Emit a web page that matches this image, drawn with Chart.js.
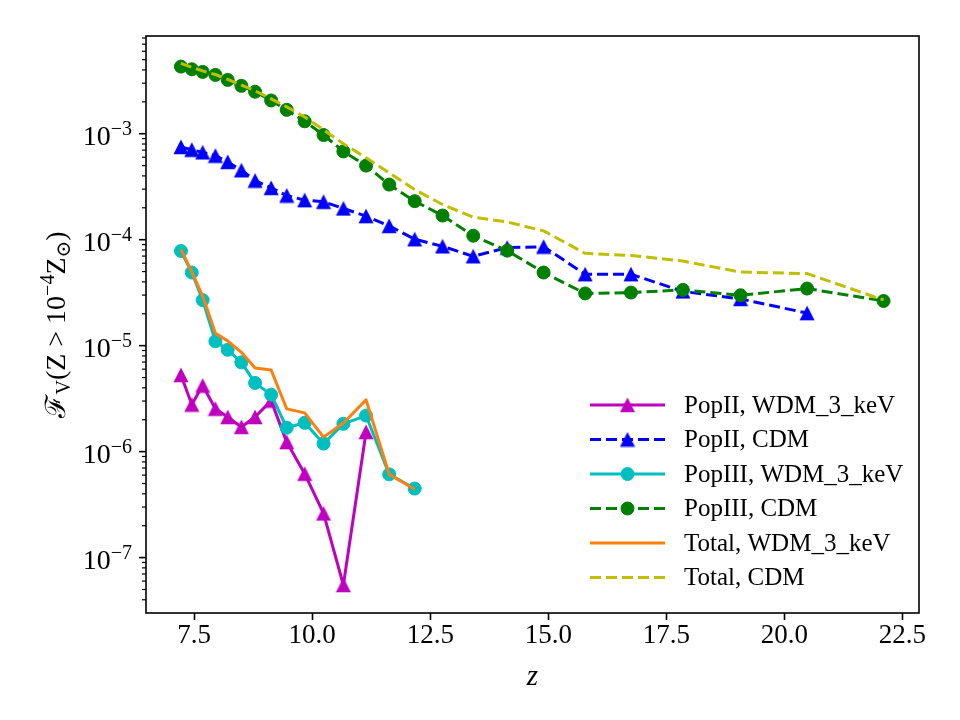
<!DOCTYPE html>
<html>
<head>
<meta charset="utf-8">
<script src="https://cdn.jsdelivr.net/npm/chart.js@4/dist/chart.umd.min.js"></script>
<style>
  html, body { margin: 0; padding: 0; background: #fff; }
  #wrap { width: 960px; height: 720px; }
</style>
</head>
<body>
<div id="wrap"><canvas id="chart" width="960" height="720"></canvas></div>
<script>
// redshift snapshots shared by every series
var redshift = [7.22, 7.45, 7.68, 7.95, 8.21, 8.50, 8.79, 9.13, 9.46, 9.84, 10.24, 10.66, 11.14,
                11.63, 12.17, 12.76, 13.41, 14.13, 14.90, 15.78, 16.75, 17.85, 19.07, 20.48, 22.10];

var popII_wdm  = [5.28e-6, 2.78e-6, 4.20e-6, 2.54e-6, 2.12e-6, 1.71e-6, 2.12e-6, 3.03e-6, 1.23e-6,
                  6.19e-7, 2.61e-7, 5.51e-8, 1.53e-6];
var popII_cdm  = [7.50e-4, 7.06e-4, 6.67e-4, 6.21e-4, 5.42e-4, 4.52e-4, 3.61e-4, 3.08e-4, 2.61e-4,
                  2.36e-4, 2.28e-4, 1.97e-4, 1.67e-4, 1.35e-4, 1.01e-4, 8.65e-5, 6.97e-5, 8.41e-5,
                  8.59e-5, 4.72e-5, 4.72e-5, 3.25e-5, 2.76e-5, 2.03e-5];
var popIII_wdm = [7.82e-5, 4.90e-5, 2.69e-5, 1.10e-5, 9.14e-6, 6.96e-6, 4.45e-6, 3.45e-6, 1.68e-6,
                  1.87e-6, 1.19e-6, 1.83e-6, 2.19e-6, 6.10e-7, 4.48e-7];
var popIII_cdm = [4.30e-3, 4.06e-3, 3.83e-3, 3.59e-3, 3.22e-3, 2.83e-3, 2.49e-3, 2.06e-3, 1.68e-3,
                  1.31e-3, 9.72e-4, 6.81e-4, 5.00e-4, 3.31e-4, 2.31e-4, 1.69e-4, 1.09e-4, 7.88e-5,
                  4.90e-5, 3.11e-5, 3.17e-5, 3.36e-5, 2.99e-5, 3.46e-5, 2.64e-5];
var total_wdm  = [8.11e-5, 4.96e-5, 2.94e-5, 1.31e-5, 1.11e-5, 8.65e-6, 6.15e-6, 5.89e-6, 2.53e-6,
                  2.32e-6, 1.37e-6, 1.86e-6, 3.08e-6, 6.11e-7, 4.41e-7];
var total_cdm  = [4.61e-3, 4.23e-3, 3.92e-3, 3.62e-3, 3.26e-3, 2.88e-3, 2.54e-3, 2.13e-3, 1.79e-3,
                  1.44e-3, 1.09e-3, 8.05e-4, 5.94e-4, 4.27e-4, 2.97e-4, 2.15e-4, 1.63e-4, 1.47e-4,
                  1.21e-4, 7.43e-5, 7.11e-5, 6.29e-5, 4.95e-5, 4.79e-5, 2.70e-5];

var labels = ['PopII, WDM_3_keV', 'PopII, CDM', 'PopIII, WDM_3_keV', 'PopIII, CDM',
              'Total, WDM_3_keV', 'Total, CDM'];
var x_ticks = [7.5, 10.0, 12.5, 15.0, 17.5, 20.0, 22.5];
var y_decades = [-7, -6, -5, -4, -3];

var SERIF = '"Liberation Serif", "DejaVu Serif", serif';

function pts(ys) {
  return ys.map(function(v, i) { return {x: redshift[i], y: v}; });
}

// matplotlib style '^' marker
function triangle(color) {
  var c = document.createElement('canvas');
  c.width = 16; c.height = 16;
  var g = c.getContext('2d');
  g.fillStyle = color;
  g.beginPath();
  g.moveTo(8, 0.5); g.lineTo(15.5, 15.2); g.lineTo(0.5, 15.2);
  g.closePath(); g.fill();
  return c;
}

var DASH = [11, 5];

function series(label, ys, color, dashed, marker, order) {
  var d = {
    label: label, data: pts(ys), borderColor: color, backgroundColor: color,
    borderWidth: 3, borderDash: dashed ? DASH : [], borderJoinStyle: 'round',
    pointBorderColor: color, pointBackgroundColor: color, pointBorderWidth: 1,
    order: order, tension: 0
  };
  if (marker === 'tri') { d.pointStyle = triangle(color); d.pointRadius = 7; }
  else if (marker === 'circ') { d.pointStyle = 'circle'; d.pointRadius = 6.5; }
  else { d.pointRadius = 0; }
  return d;
}

var datasets = [
  series(labels[0], popII_wdm,  '#bf00bf', false, 'tri', 6),
  series(labels[1], popII_cdm,  '#0000ff', true,  'tri', 5),
  series(labels[2], popIII_wdm, '#00bfbf', false, 'circ', 4),
  series(labels[3], popIII_cdm, '#008000', true,  'circ', 3),
  series(labels[4], total_wdm,  '#ff7f0e', false, null, 2),
  series(labels[5], total_cdm,  '#bfbf00', true,  null, 1)
];

var decor = {
  id: 'decor',
  afterDraw: function(chart) {
    var ctx = chart.ctx, a = chart.chartArea;
    var xs = chart.scales.x, ys = chart.scales.y;
    ctx.save();
    // frame
    ctx.strokeStyle = '#000'; ctx.lineWidth = 1.6; ctx.setLineDash([]);
    ctx.strokeRect(a.left, a.top, a.right - a.left, a.bottom - a.top);
    // x ticks
    x_ticks.forEach(function(v) {
      var p = Math.round(xs.getPixelForValue(v)) + 0.5;
      ctx.beginPath(); ctx.moveTo(p, a.bottom); ctx.lineTo(p, a.bottom + 7); ctx.stroke();
    });
    // y ticks
    ys.ticks.forEach(function(t) {
      var p = ys.getPixelForValue(t.value);
      if (p < a.top - 0.5 || p > a.bottom + 0.5) return;
      var major = t.major;
      ctx.lineWidth = major ? 1.6 : 1.2;
      ctx.beginPath(); ctx.moveTo(a.left, p); ctx.lineTo(a.left - (major ? 7 : 4), p); ctx.stroke();
    });
    // y tick labels 10^e
    ctx.fillStyle = '#000';
    ctx.textBaseline = 'alphabetic';
    y_decades.forEach(function(e) {
      var p = ys.getPixelForValue(Math.pow(10, e));
      var sup = '\u2212' + Math.abs(e);
      ctx.font = '20px ' + SERIF;
      var w2 = ctx.measureText(sup).width;
      ctx.font = '28px ' + SERIF;
      var w1 = ctx.measureText('10').width;
      var right = a.left - 14;
      ctx.textAlign = 'left';
      ctx.fillText('10', right - w2 - w1, p + 11);
      ctx.font = '20px ' + SERIF;
      ctx.fillText(sup, right - w2, p + 1);
    });
    // y axis title
    ctx.save();
    ctx.translate(56, (a.top + a.bottom) / 2);
    ctx.rotate(-Math.PI / 2);
    var big = '28px ' + SERIF, small = '20px ' + SERIF;
    var parts = [
      {t: '\u2131', f: big, dy: 0},
      {t: 'V', f: small, dy: 5},
      {t: '(Z > 10', f: big, dy: 0},
      {t: '\u22124', f: small, dy: -11},
      {t: 'Z', f: big, dy: 0},
      {t: '\u2299', f: small, dy: 5},
      {t: ')', f: big, dy: 0}
    ];
    var total = 0;
    parts.forEach(function(q) { ctx.font = q.f; q.w = ctx.measureText(q.t).width; total += q.w; });
    var cx = -total / 2;
    ctx.textAlign = 'left';
    parts.forEach(function(q) {
      ctx.font = q.f;
      ctx.fillText(q.t, cx, 9 + q.dy);
      cx += q.w;
    });
    ctx.restore();
    // legend
    chart.data.datasets.forEach(function(d, i) {
      var y = 405 + i * 34.5;
      ctx.strokeStyle = d.borderColor; ctx.lineWidth = 3;
      ctx.setLineDash(d.borderDash);
      ctx.beginPath(); ctx.moveTo(590, y); ctx.lineTo(665, y); ctx.stroke();
      ctx.setLineDash([]);
      if (d.pointRadius > 0) {
        if (d.pointStyle === 'circle') {
          ctx.fillStyle = d.pointBackgroundColor; ctx.strokeStyle = d.pointBorderColor;
          ctx.lineWidth = 1;
          ctx.beginPath(); ctx.arc(627.5, y, d.pointRadius, 0, Math.PI * 2); ctx.fill(); ctx.stroke();
        } else {
          Chart.helpers.drawPoint(ctx, {
            pointStyle: d.pointStyle, radius: d.pointRadius, borderWidth: 1, rotation: 0
          }, 627.5, y);
        }
      }
      ctx.fillStyle = '#000';
      ctx.font = '25px ' + SERIF;
      ctx.textAlign = 'left'; ctx.textBaseline = 'middle';
      ctx.fillText(d.label, 684, y + 1);
      ctx.textBaseline = 'alphabetic';
    });
    ctx.restore();
  }
};

new Chart(document.getElementById('chart').getContext('2d'), {
  type: 'line',
  data: { datasets: datasets },
  options: {
    responsive: false,
    animation: false,
    devicePixelRatio: 1,
    layout: { padding: { left: 0, top: 36, right: 41, bottom: 0 } },
    plugins: { legend: { display: false }, tooltip: { enabled: false } },
    scales: {
      x: {
        type: 'linear', min: 6.48, max: 22.85,
        afterBuildTicks: function(s) { s.ticks = x_ticks.map(function(v) { return {value: v}; }); },
        afterFit: function(s) { s.height = 107; },
        grid: { display: false, drawTicks: false },
        border: { display: false },
        ticks: {
          color: '#000', font: { family: SERIF, size: 27 }, padding: 7,
          maxRotation: 0, autoSkip: false,
          callback: function(v) { return Number(v).toFixed(1); }
        },
        title: {
          display: true, text: 'z', color: '#000',
          font: { family: SERIF, size: 29, style: 'italic' },
          padding: { top: 0, bottom: 25 }
        }
      },
      y: {
        type: 'logarithmic', min: 3.1e-8, max: 8.36e-3,
        afterBuildTicks: function(s) {
          var t = [];
          for (var e = -8; e <= -3; e++) {
            for (var m = 1; m <= 9; m++) {
              var v = m * Math.pow(10, e);
              if (v >= 3.1e-8 && v <= 8.36e-3) t.push({value: v, major: m === 1});
            }
          }
          s.ticks = t;
        },
        afterFit: function(s) { s.width = 146; },
        grid: { display: false, drawTicks: false },
        border: { display: false },
        ticks: { display: false }
      }
    }
  },
  plugins: [decor]
});
</script>
</body>
</html>
